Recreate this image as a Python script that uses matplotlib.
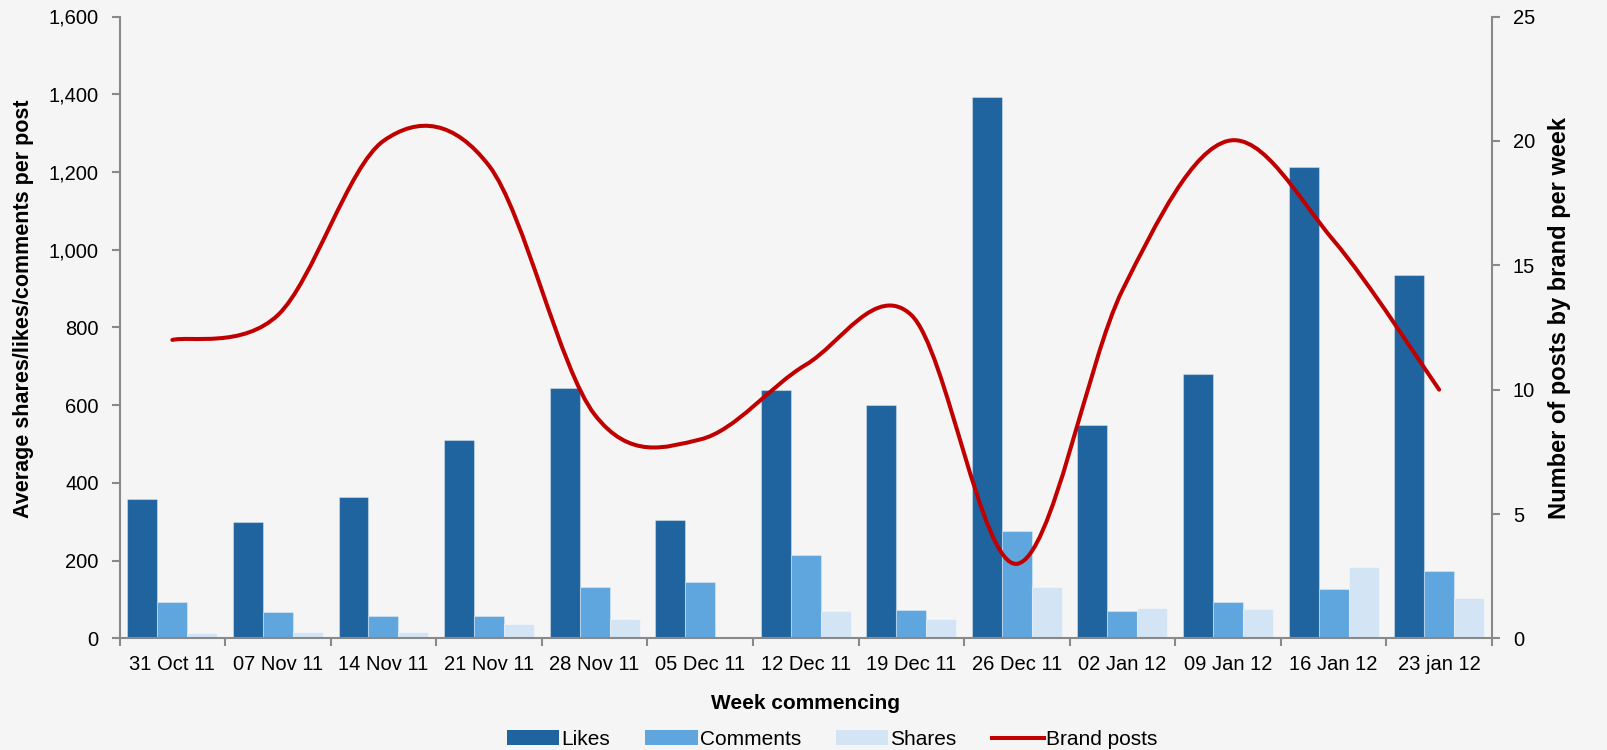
import numpy as np
import matplotlib
matplotlib.use("Agg")
import matplotlib.pyplot as plt
from matplotlib.path import Path
from matplotlib.patches import PathPatch, Patch
from matplotlib.lines import Line2D

plt.rcParams['font.family'] = ['Liberation Sans', 'DejaVu Sans']

# weekly engagement data
weeks = ['31 Oct 11', '07 Nov 11', '14 Nov 11', '21 Nov 11', '28 Nov 11', '05 Dec 11',
         '12 Dec 11', '19 Dec 11', '26 Dec 11', '02 Jan 12', '09 Jan 12', '16 Jan 12',
         '23 jan 12']
likes = [358, 300, 364, 510, 644, 306, 639, 600, 1394, 549, 680, 1213, 934]
comments = [95, 68, 57, 57, 132, 145, 216, 72, 276, 70, 95, 128, 174]
shares = [15, 17, 17, 36, 50, 0, 71, 49, 133, 79, 77, 185, 104]
brand_posts = [12, 13, 20, 19, 9, 8, 11, 13, 3, 14, 20, 16, 10]

BG = '#f5f5f5'
C_LIKES = '#20649f'
C_COMMENTS = '#5fa5de'
C_SHARES = '#d3e5f5'
C_LINE = '#c00000'
C_AXIS = '#898989'


def smooth_path(xs, ys):
    """Bezier path through the points, same idea as Excel's smoothed line."""
    pts = np.column_stack([xs, ys]).astype(float)
    n = len(pts)
    verts = [pts[0]]
    codes = [Path.MOVETO]
    for i in range(n - 1):
        p0 = pts[i - 1] if i > 0 else pts[i]
        p3 = pts[i + 2] if i + 2 < n else pts[i + 1]
        c1 = pts[i] + (pts[i + 1] - p0) / 6.0
        c2 = pts[i + 1] - (p3 - pts[i]) / 6.0
        verts += [c1, c2, pts[i + 1]]
        codes += [Path.CURVE4] * 3
    return Path(verts, codes)


fig = plt.figure(figsize=(16.07, 7.5), dpi=100, facecolor=BG)
ax = fig.add_axes([0.0744, 0.1487, 0.8540, 0.8293], facecolor=BG)
ax2 = ax.twinx()

x = np.arange(len(weeks))
w = 0.284
edge = dict(edgecolor=(1, 1, 1, 0.35), linewidth=0.8)
ax.bar(x - w, likes, w, color=C_LIKES, **edge)
ax.bar(x, comments, w, color=C_COMMENTS, **edge)
ax.bar(x + w, shares, w, color=C_SHARES, **edge)

ax2.add_patch(PathPatch(smooth_path(x, brand_posts), fill=False,
                        edgecolor=C_LINE, lw=2.9, capstyle='round'))

ax.set_xlim(-0.5, len(weeks) - 0.5)
ax.set_ylim(0, 1600)
ax2.set_ylim(0, 25)

ax.set_yticks(np.arange(0, 1601, 200))
ax.set_yticklabels([f'{v:,}' for v in range(0, 1601, 200)])
ax2.set_yticks(np.arange(0, 26, 5))

ax.set_xticks(x)
ax.set_xticklabels(weeks)
ax.set_xticks(np.arange(-0.5, len(weeks)), minor=True)
ax.tick_params(axis='x', which='major', length=0, pad=12, labelsize=14.5)
ax.tick_params(axis='x', which='minor', length=6, width=1.5, color=C_AXIS)
ax.tick_params(axis='y', length=6, width=1.5, color=C_AXIS, pad=9, labelsize=14.5)
ax2.tick_params(axis='y', length=6, width=1.5, color=C_AXIS, pad=9, labelsize=14.5)

for s in ['top', 'right']:
    ax.spines[s].set_visible(False)
for s in ['top', 'left', 'bottom']:
    ax2.spines[s].set_visible(False)
for a, s in [(ax, 'left'), (ax, 'bottom'), (ax2, 'right')]:
    a.spines[s].set_color(C_AXIS)
    a.spines[s].set_linewidth(1.5)

ax.set_xlabel('Week commencing', fontsize=15, fontweight='bold', labelpad=14)
ax.set_ylabel('Average shares/likes/comments per post', fontsize=15.5, fontweight='bold')
ax.yaxis.set_label_coords(-0.062, 0.53)
ax2.set_ylabel('Number of posts by brand per week', fontsize=17, fontweight='bold',
               rotation=90)
ax2.yaxis.set_label_coords(1.041, 0.515)

handles = [Patch(facecolor=C_LIKES), Patch(facecolor=C_COMMENTS),
           Patch(facecolor=C_SHARES), Line2D([], [], color=C_LINE, lw=2.9)]
fig.legend(handles, ['Likes', 'Comments', 'Shares', 'Brand posts'], loc='center',
           bbox_to_anchor=(0.518, 0.014), ncol=4, frameon=False, fontsize=15,
           handlelength=2.5, handleheight=0.7, handletextpad=0.1, columnspacing=1.7)

fig.savefig('out.png', dpi=100, facecolor=BG)
